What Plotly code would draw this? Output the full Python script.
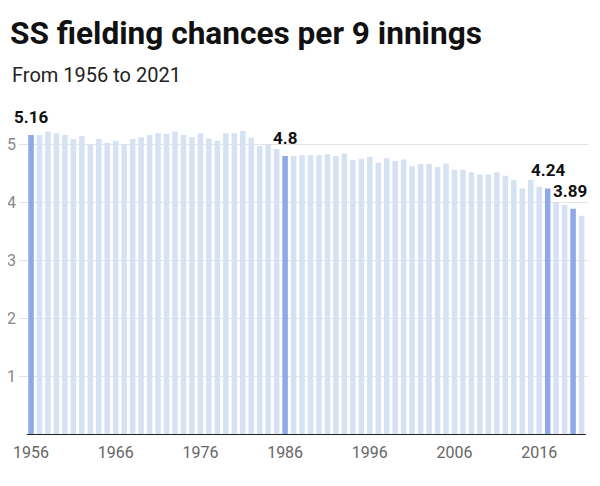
import plotly.graph_objects as go

years = list(range(1956, 2022))
values = [5.16, 5.16, 5.22, 5.19, 5.16, 5.09, 5.14, 5.00, 5.09, 5.02,
          5.06, 5.00, 5.09, 5.12, 5.16, 5.19, 5.18, 5.22, 5.16, 5.12,
          5.19, 5.10, 5.06, 5.19, 5.19, 5.23, 5.11, 4.97, 5.00, 4.92,
          4.80, 4.80, 4.81, 4.81, 4.81, 4.83, 4.80, 4.84, 4.73, 4.75,
          4.78, 4.68, 4.76, 4.71, 4.74, 4.62, 4.66, 4.66, 4.61, 4.67,
          4.56, 4.56, 4.52, 4.48, 4.48, 4.52, 4.46, 4.38, 4.24, 4.39,
          4.27, 4.24, 4.00, 3.96, 3.89, 3.77]
highlight_years = [1956, 1986, 2017, 2020]
highlight_labels = ["5.16", "4.8", "4.24", "3.89"]
label_xshift = [0, 0, 0, -3]
xtick_vals = [1956, 1966, 1976, 1986, 1996, 2006, 2016]
xtick_text = ["1956", "1966", "1976", "1986", "1996", "2006", "2016"]
ytick_vals = [1, 2, 3, 4, 5]
ytick_text = ["1", "2", "3", "4", "5"]

LIGHT = "#d6e1f3"
DARK = "#8ea9e5"
colors = [DARK if y in highlight_years else LIGHT for y in years]

W, H = 584, 470

fig = go.Figure()
fig.add_trace(go.Bar(x=years, y=values, marker=dict(color=colors, line=dict(width=0)),
                     hoverinfo="skip"))

for yr, lab, xs in zip(highlight_years, highlight_labels, label_xshift):
    v = values[years.index(yr)]
    fig.add_annotation(x=yr, y=v, text=f"<b>{lab}</b>", showarrow=False,
                       xref="x", yref="y", yanchor="bottom", yshift=6, xshift=xs,
                       font=dict(family="Roboto", size=17, color="#111111"))

fig.add_shape(type="line", xref="x", yref="y", x0=1955.5, x1=2021.5, y0=0, y1=0,
              line=dict(color="#222222", width=2))

fig.add_annotation(xref="paper", yref="paper", x=-0.0158, y=1.146, xanchor="left",
                   yanchor="middle", showarrow=False, text="From 1956 to 2021",
                   font=dict(family="Roboto", size=20, color="#222222"))

fig.update_layout(
    width=W, height=H,
    margin=dict(l=11, r=4, t=113, b=43, autoexpand=False),
    paper_bgcolor="white", plot_bgcolor="white",
    showlegend=False,
    bargap=0.35,
    title=dict(text="<b>SS fielding chances per 9 innings</b>", x=2/W, xanchor="left",
               xref="container", y=1 - 25/H, yanchor="middle", pad=dict(l=0, r=0, t=0, b=0),
               font=dict(family="Roboto", size=31.6, color="#111111")),
    xaxis=dict(range=[1954.58, 2021.76], tickmode="array", tickvals=xtick_vals,
               ticktext=xtick_text, showgrid=False, zeroline=False, showline=False,
               ticks="", ticklabelstandoff=6, automargin=False,
               tickfont=dict(family="Roboto", size=16, color="#666666")),
    yaxis=dict(range=[0, 5.4], tickmode="array", tickvals=ytick_vals, ticktext=ytick_text,
               showgrid=True, gridcolor="#e3e3e3", gridwidth=1, zeroline=False,
               showline=False, ticks="", ticklabelstandoff=2, automargin=False,
               tickfont=dict(family="Roboto", size=16, color="#888888")),
)

fig.write_html("out.html", config={"displayModeBar": False})
